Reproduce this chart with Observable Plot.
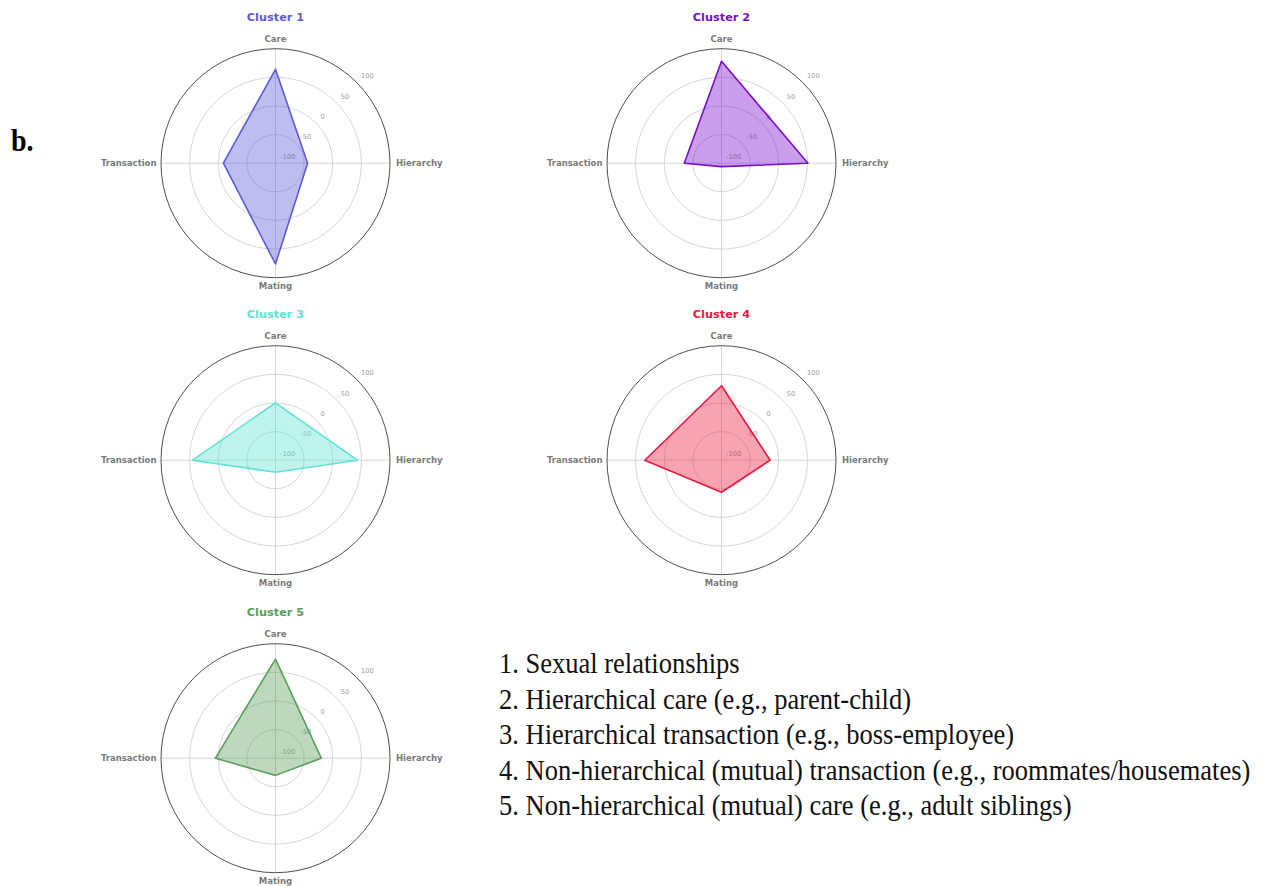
<!DOCTYPE html>
<html>
<head>
<meta charset="utf-8">
<script src="https://cdn.jsdelivr.net/npm/d3@7"></script>
<script src="https://cdn.jsdelivr.net/npm/@observablehq/plot@0.6"></script>
<style>
  html, body { margin: 0; padding: 0; background: #fff; }
  body { width: 1271px; height: 886px; overflow: hidden; position: relative; }
  .panel { position: absolute; }
  .panel svg { overflow: visible; }
  #tag { position: absolute; left: 11px; top: 123px; font: bold 28px "Liberation Serif", serif; color: #000; transform: scaleY(1.1); transform-origin: left top; }
  #key { position: absolute; left: 499px; top: 646px; font: 26.5px "Liberation Serif", serif; color: #111; }
  #key div { height: 35.6px; line-height: 35.6px; white-space: nowrap; transform: scaleY(1.12); transform-origin: left center; }
</style>
</head>
<body>
<div id="tag">b.</div>
<div id="key"></div>
<script>
// Relationship dimensions shown on each radar, clockwise from the top
const axisNames = ["Care", "Hierarchy", "Mating", "Transaction"];

// Cluster labels
const clusterNames = ["Cluster 1", "Cluster 2", "Cluster 3", "Cluster 4", "Cluster 5"];

// Mean dimension scores per cluster (index = cluster)
const care        = [64, 78, 0, 30, 73];
const hierarchy   = [-44, 51, 43, -15, -20];
const mating      = [76, -94, -79, -44, -70];
const transaction = [-9, -35, 45, 34, 5];

// Radial tick labels
const radialTicks = [-100, -50, 0, 50, 100];

// Interpretation of each cluster
const relationshipTypes = [
  "Sexual relationships",
  "Hierarchical care (e.g., parent-child)",
  "Hierarchical transaction (e.g., boss-employee)",
  "Non-hierarchical (mutual) transaction (e.g., roommates/housemates)",
  "Non-hierarchical (mutual) care (e.g., adult siblings)"
];

// Cluster colours
const palette = ["#5b5bd8", "#7a0ccb", "#5fe3d1", "#e8193f", "#5a9e5a"];

const series = [care, hierarchy, mating, transaction];

// Panel geometry
const PANEL_W = 330, PANEL_H = 297, CENTER_Y = 162.7, RIM_PX = 114.5;
const colCenters = [275, 721.3];
const rowTop = 297.3;

// radial value -> fraction of the rim radius
const radius = d3.scaleLinear().domain([-100, 100]).range([0, 1]);
const angleOf = i => (2 * Math.PI * i) / axisNames.length;
const px = (v, i) => radius(v) * Math.sin(angleOf(i));
const py = (v, i) => radius(v) * Math.cos(angleOf(i));

// Placement of each dimension label around the rim
const labelPlacement = [
  {textAnchor: "middle", lineAnchor: "bottom", dx: 0, dy: -6.5},
  {textAnchor: "start", lineAnchor: "middle", dx: 6, dy: 0},
  {textAnchor: "middle", lineAnchor: "top", dx: 0, dy: 5.5},
  {textAnchor: "end", lineAnchor: "middle", dx: -4.5, dy: 0}
];

function radar(c) {
  const color = palette[c];
  const points = axisNames.map((axis, i) => ({axis, i, value: series[i][c]}));
  const spokes = axisNames.map((axis, i) => ({axis, i}));
  const diag = Math.PI / 4;
  return Plot.plot({
    width: PANEL_W,
    height: PANEL_H,
    margin: 0,
    x: {domain: [-PANEL_W / 2 / RIM_PX, PANEL_W / 2 / RIM_PX], axis: null},
    y: {domain: [-(PANEL_H - CENTER_Y) / RIM_PX, CENTER_Y / RIM_PX], axis: null},
    r: {type: "linear", domain: [-100, 100], range: [0, RIM_PX]},
    style: {fontFamily: "DejaVu Sans, sans-serif", background: "transparent"},
    marks: [
      // spokes
      Plot.link(spokes, {
        x1: 0, y1: 0,
        x2: d => px(100, d.i), y2: d => py(100, d.i),
        stroke: "#cccccc", strokeWidth: 0.8
      }),
      // inner grid rings
      Plot.dot(radialTicks.filter(t => t > -100 && t < 100), {
        x: 0, y: 0, r: d => d, stroke: "#cccccc", strokeWidth: 0.8, fill: "none"
      }),
      // outer rim
      Plot.dot(radialTicks.filter(t => t === 100), {
        x: 0, y: 0, r: d => d, stroke: "#222222", strokeWidth: 0.8, fill: "none"
      }),
      // radial tick labels
      Plot.text(radialTicks, {
        x: d => radius(d) * Math.sin(diag),
        y: d => radius(d) * Math.cos(diag),
        text: d => String(d),
        textAnchor: "start", dx: 4.5, dy: -6,
        fontSize: 6.7, fill: "#9a9a9a"
      }),
      // cluster profile
      Plot.line(points, {
        x: d => px(d.value, d.i), y: d => py(d.value, d.i),
        curve: "linear-closed",
        stroke: color, strokeWidth: 1.6,
        fill: color, fillOpacity: 0.4
      }),
      // dimension labels
      ...spokes.map(s => Plot.text([s], {
        x: d => px(100, d.i), y: d => py(100, d.i),
        text: "axis",
        ...labelPlacement[s.i],
        fontWeight: "bold", fontSize: 8.5, fill: "#7a7a7a"
      })),
      // panel title
      Plot.text([clusterNames[c]], {
        frameAnchor: "top", lineAnchor: "middle", dy: 17,
        text: d => d, fill: color, fontWeight: "bold", fontSize: 11.3
      })
    ]
  });
}

clusterNames.forEach((name, c) => {
  const holder = document.createElement("div");
  holder.className = "panel";
  holder.style.left = (colCenters[c % 2] - PANEL_W / 2) + "px";
  holder.style.top = (Math.floor(c / 2) * rowTop) + "px";
  holder.appendChild(radar(c));
  document.body.appendChild(holder);
});

const key = document.getElementById("key");
relationshipTypes.forEach((t, i) => {
  const line = document.createElement("div");
  line.textContent = `${i + 1}. ${t}`;
  key.appendChild(line);
});
</script>
</body>
</html>
